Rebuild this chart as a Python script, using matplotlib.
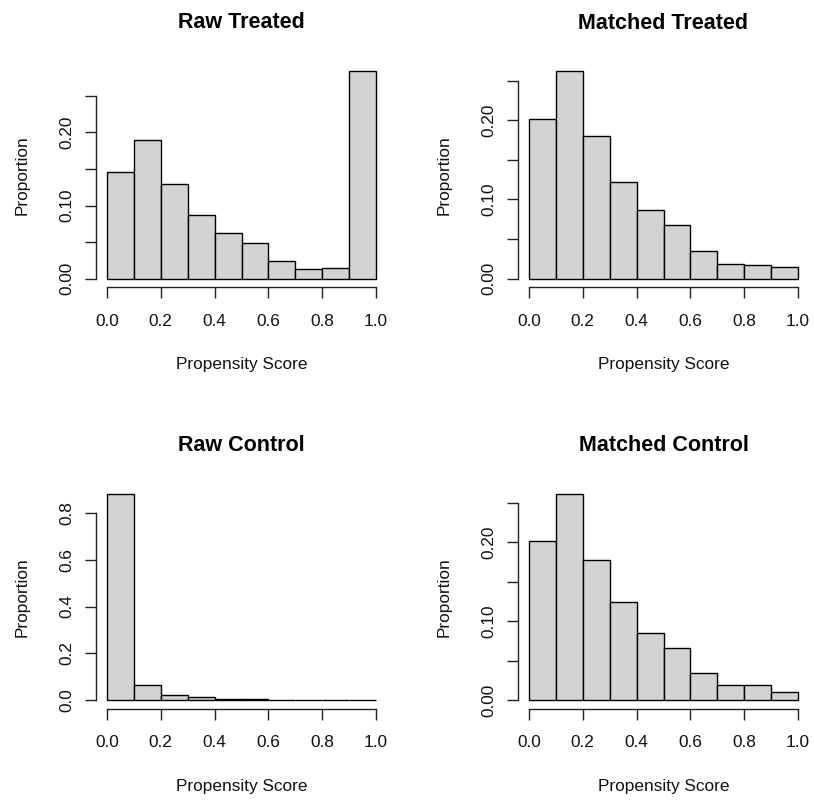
import matplotlib
matplotlib.use("Agg")
import matplotlib.pyplot as plt
import numpy as np

plt.rcParams['font.family'] = ['Liberation Sans', 'DejaVu Sans']

# ---- data ----
bin_edges = [0.0, 0.1, 0.2, 0.3, 0.4, 0.5, 0.6, 0.7, 0.8, 0.9, 1.0]

raw_treated = [0.146, 0.189, 0.130, 0.0875, 0.063, 0.0487, 0.0246, 0.0132, 0.015, 0.2834]
matched_treated = [0.2017, 0.2615, 0.1798, 0.1217, 0.0872, 0.0674, 0.0345, 0.0189, 0.0173, 0.0152]
raw_control = [0.881, 0.064, 0.024, 0.0128, 0.0055, 0.0052, 0.002, 0.001, 0.0005, 0.0003]
matched_control = [0.2017, 0.2616, 0.178, 0.1249, 0.0857, 0.0662, 0.0342, 0.0198, 0.0198, 0.0101]

titles = ["Raw Treated", "Matched Treated", "Raw Control", "Matched Control"]
x_label = "Propensity Score"
y_label = "Proportion"

x_ticks = [0.0, 0.2, 0.4, 0.6, 0.8, 1.0]
x_ticklabels = ["0.0", "0.2", "0.4", "0.6", "0.8", "1.0"]

y_ticks_small = [0.0, 0.05, 0.10, 0.15, 0.20, 0.25]
y_ticklabels_small = ["0.00", "", "0.10", "", "0.20", ""]
y_ticks_big = [0.0, 0.2, 0.4, 0.6, 0.8]
y_ticklabels_big = ["0.0", "0.2", "0.4", "0.6", "0.8"]

panels = [
    (raw_treated, y_ticks_small, y_ticklabels_small),
    (matched_treated, y_ticks_small, y_ticklabels_small),
    (raw_control, y_ticks_big, y_ticklabels_big),
    (matched_control, y_ticks_small, y_ticklabels_small),
]

# ---- layout (pixel boxes) ----
W, H = 814, 801
boxes = [
    (96.2, 63.0, 386.8, 287.0),
    (518.2, 63.2, 808.8, 287.0),
    (96.2, 485.4, 386.8, 708.6),
    (518.2, 485.4, 808.8, 708.6),
]
title_offset = 40      # px above axes top
xlabel_offset = 77.5   # px below axes bottom
ylabel_offset = 74     # px left of axes left

fig = plt.figure(figsize=(W / 100, H / 100), dpi=100)

for (vals, yt, ytl), (l, t, r, b), title in zip(panels, boxes, titles):
    ax = fig.add_axes([l / W, 1 - b / H, (r - l) / W, (b - t) / H])
    edges = np.array(bin_edges)
    ax.bar(edges[:-1], vals, width=np.diff(edges), align='edge',
           color='#D3D3D3', edgecolor='black', linewidth=1.0)
    m = max(vals)
    ax.set_xlim(-0.04, 1.04)
    ax.set_ylim(-0.04 * m, 1.04 * m)
    for s in ['top', 'right']:
        ax.spines[s].set_visible(False)
    ax.spines['left'].set_bounds(yt[0], yt[-1])
    ax.spines['bottom'].set_bounds(x_ticks[0], x_ticks[-1])
    for s in ['left', 'bottom']:
        ax.spines[s].set_linewidth(1.0)
        ax.spines[s].set_color('#222222')
    ax.set_xticks(x_ticks)
    ax.set_xticklabels(x_ticklabels)
    ax.set_yticks(yt)
    ax.set_yticklabels(ytl, rotation=90, va='center')
    ax.tick_params(axis='both', direction='out', length=7.7, width=1.0,
                   color='#222222', labelsize=12.4, labelcolor='#111111')
    ax.tick_params(axis='x', pad=11.5)
    ax.tick_params(axis='y', pad=8)
    h = b - t
    w = r - l
    ax.set_xlabel(x_label, fontsize=12.4, va='center', color='#111111')
    ax.xaxis.set_label_coords(0.5, -xlabel_offset / h)
    ax.set_ylabel(y_label, fontsize=12.4, va='center', color='#111111')
    ax.yaxis.set_label_coords(-ylabel_offset / w, 0.5)
    ax.text(0.5, 1 + title_offset / h, title, transform=ax.transAxes,
            ha='center', va='center', fontsize=15.5, fontweight='bold')

fig.savefig("out.png", dpi=100, facecolor='white')
